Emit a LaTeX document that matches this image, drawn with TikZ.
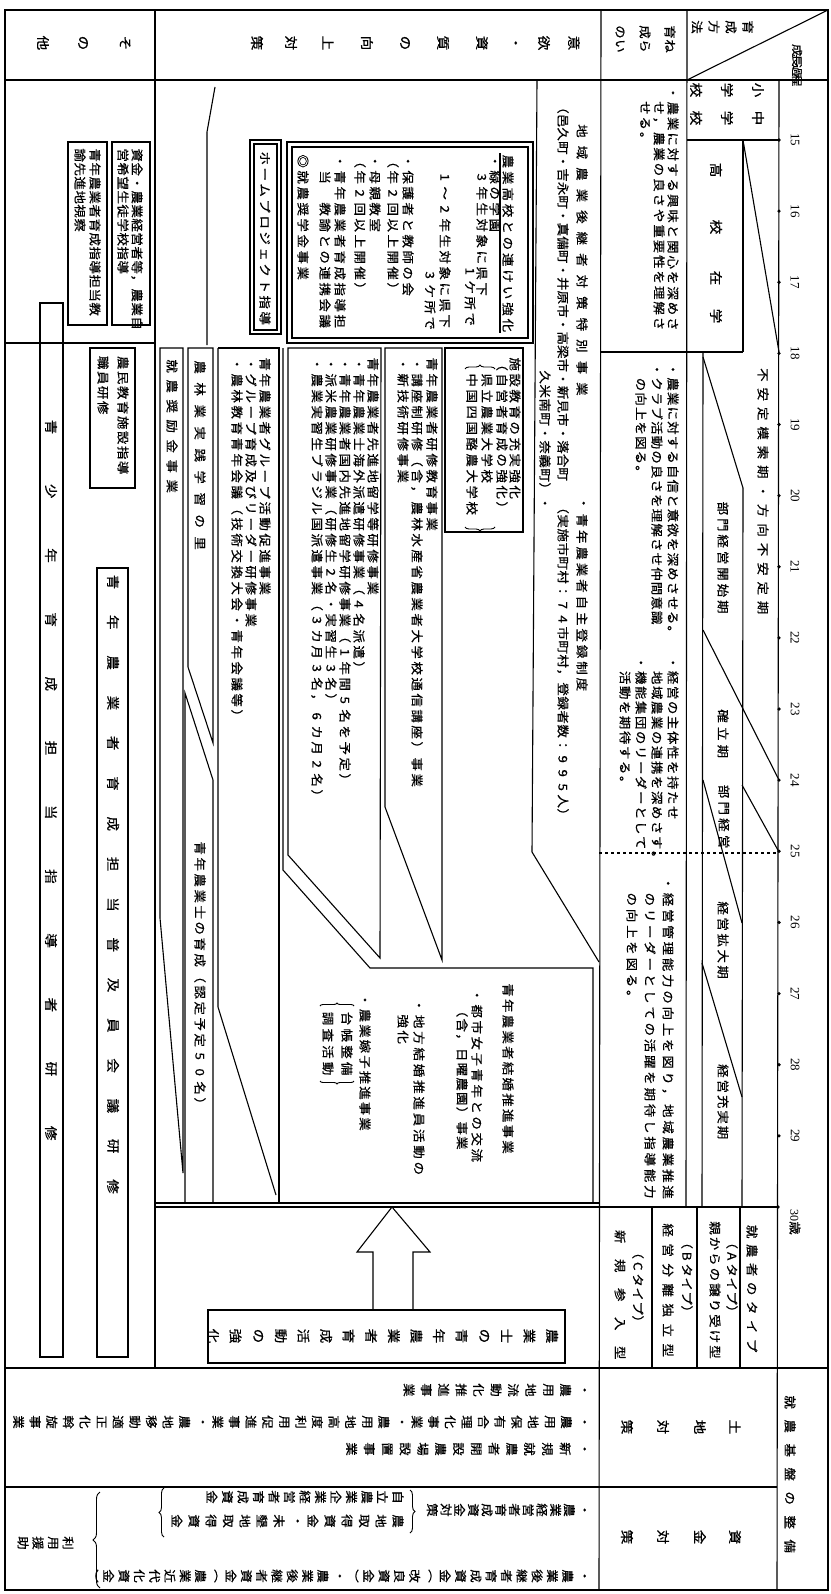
\documentclass[tikz,border=0pt]{standalone}
\usepackage{fontspec}
\usetikzlibrary{decorations.pathreplacing}
\newfontfamily\jp[FakeStretch=1.12,FakeBold=0.6]{Noto Sans CJK JP}
\newfontfamily\serif{Liberation Serif}
\newdimen\hzp
\def\hzloop#1{\ifx\relax#1\else\hbox to\hzp{\hss#1\hss}\expandafter\hzloop\fi}
\newcommand\hz[2]{\hzp=#1pt\relax\hbox{\hzloop#2\relax}}
\newcount\tcnt
\def\tlx{0}\def\tly{0}\def\tlp{0}
\newcommand\tline[4]{\global\tcnt=0\relax\def\tlx{#1}\def\tly{#2}\def\tlp{#3}\tlit#4\relax}
\def\tlit#1{\ifx\relax#1\else\tlnode{#1}\expandafter\tlit\fi}
\def\tlnode#1{\node[T] at ({\tlx-\tlp*\the\tcnt},\tly) {#1};\global\advance\tcnt by 1\relax}
\tikzset{
  L/.style={rotate=-90,anchor=west,inner sep=0pt,font=\jp\fontsize{12}{12}\selectfont},
  C/.style={rotate=-90,anchor=center,inner sep=0pt,font=\jp\fontsize{13}{13}\selectfont},
  T/.style={rotate=-90,anchor=center,inner sep=0pt,font=\jp\fontsize{12}{12}\selectfont},
  rule/.style={line width=1.1pt},
  frame/.style={line width=1.6pt},
  brc/.style={line width=0.9pt,decorate,decoration={brace,amplitude=#1}},
}
\begin{document}
\begin{tikzpicture}[x=1pt,y=-1pt]
\useasboundingbox (0,0) rectangle (830,1594);
\fill[white] (0,0) rectangle (830,1594);
% outer frame and main rules
\draw[frame] (5,10) rectangle (828,1590);
\draw[rule] (5,80) -- (828,80);
\draw[rule] (155,10) -- (155,1368);
\draw[rule] (601,10) -- (599,1590);
\draw[rule] (687,10) -- (686,1207);
\draw[rule] (779,80) -- (777,1590);
\draw[rule] (5,1368) -- (828,1368);
\draw[rule] (5,1487) -- (777,1487);
\draw[rule] (155,1207) -- (777,1207);
\draw[rule] (155,1203) -- (599,1203);
% header diagonal cell
\draw[rule] (687,80) -- (828,10);
\tline{748}{27}{17}{育成方法}
\node[L,font=\jp\fontsize{11}{11}\selectfont] at (797,45) {\hz{10}{成長過程}};
% header labels
\tline{670}{32}{25}{育成の}
\tline{670}{46}{25}{ねらい}
\foreach \c/\x in {意/574,欲/544,・/514,資/482,質/443,の/405,向/367,上/328,対/291,策/257}
  \node[C] at (\x,43) {\c};
\foreach \c/\x in {そ/125,の/83,他/43}
  \node[C] at (\x,43) {\c};
% school cells
\draw[rule] (687,140) -- (779,140);
\draw[rule] (743,140) -- (743,352);
\draw[rule] (743,140) -- (779,352);
\tikzset{T/.style={rotate=-90,anchor=center,inner sep=0pt,font=\jp\fontsize{13}{13}\selectfont}}
\tline{758}{90}{31}{小学校}
\tline{758}{118}{31}{中学校}
\foreach \c/\y in {高/170,校/227,在/278,学/316} \node[C] at (716,\y) {\c};
% ages
\foreach \a in {15,...,29}{
  \pgfmathsetmacro\yy{140+71.13*(\a-15)}
  \fill (779,\yy) circle (1.8pt);
  \node[C,font=\serif\fontsize{13}{13}\selectfont] at (795,\yy) {\a};
}
\fill (778,1207) circle (1.8pt);
\node[C,font=\serif\fontsize{12}{12}\selectfont] at (795,1222) {30\jp 歳};
% stage band
\draw[rule] (601,352) -- (743,352);
\draw[rule] (703,352) -- (702,1207);
\draw[rule] (743,488) -- (742,1207);
\draw[rule] (703,357) -- (743,488);
\draw[rule] (703,630) -- (779,780);
\draw[rule] (742,785) -- (779,852);
\draw[rule] (703,780) -- (742,923);
\draw[rule] (702,963) -- (742,1097);
\draw[rule,dashed] (599,853) -- (777,853);
\node[L] at (763,365) {\hz{19.4}{不安定模索期・方向不安定期}};
\node[L] at (723,500) {\hz{16.4}{部門経営開始期}};
\node[L] at (723,707) {\hz{17.7}{確立期}};
\node[L] at (724,783) {\hz{16.7}{部門経営}};
\node[L] at (723,900) {\hz{16}{経営拡大期}};
\node[L] at (723,1063) {\hz{15.4}{経営充実期}};
% aims column
\node[L] at (673,85) {\hz{15.4}{・農業に対する興味と関心を深めさ}};
\node[L] at (659,100) {\hz{15.4}{せ，農業の良さや重要性を理解さ}};
\node[L] at (645,100) {\hz{15.4}{せる。}};
\node[L] at (673,362) {\hz{14.6}{・農業に対する自信と意欲を深めさせる。}};
\node[L] at (657,362) {\hz{14.6}{・クラブ活動の良さを理解させ仲間意識}};
\node[L] at (641,377) {\hz{14.6}{の向上を図る。}};
\node[L] at (673,655) {\hz{15}{・経営の主体性を持たせ}};
\node[L] at (657,670) {\hz{15}{地域農業の連携を深めさす。}};
\node[L] at (641,655) {\hz{15}{・機能集団のリーダーとして}};
\node[L] at (625,670) {\hz{15}{活動を期待する。}};
\node[L] at (668,875) {\hz{16.25}{・経営管理能力の向上を図り，地域農業推進}};
\node[L] at (650,891) {\hz{16.25}{のリーダーとしての活躍を期待し指導能力}};
\node[L] at (632,891) {\hz{16.25}{の向上を図る。}};
% farmer types
\draw[rule] (740,1207) -- (740,1368);
\draw[rule] (697,1207) -- (697,1368);
\draw[rule] (652,1207) -- (652,1368);
\node[L] at (752,1222) {\hz{19}{就農者のタイプ}};
\node[L] at (732,1235) {\hz{14}{（Aタイプ）}};
\node[L] at (715,1220) {\hz{15.5}{親からの譲り受け型}};
\node[L] at (687,1235) {\hz{14}{（Bタイプ）}};
\node[L] at (668,1220) {\hz{20}{経営分離独立型}};
\node[L] at (638,1245) {\hz{14}{（Cタイプ）}};
\node[L] at (620,1222) {\hz{29}{新規参入型}};
% base section
\node[L] at (790,1390) {\hz{24}{就農基盤の整備}};
\foreach \c/\x in {土/735,地/700,対/663,策/627} \node[C] at (\x,1427) {\c};
\foreach \c/\x in {資/735,金/700,対/663,策/627} \node[C] at (\x,1537) {\c};
\tikzset{T/.style={rotate=-90,anchor=center,inner sep=0pt,font=\jp\fontsize{12}{12}\selectfont}}
\tline{583}{1390}{17.4}{・農用地流動化推進事業}
\tline{583}{1422}{16.6}{・農用地保有合理化事業・農用地高度利用促進事業・農地移動適正化斡旋事業}
\tline{583}{1449}{17.8}{・新規就農者開設農場設置事業}
\tline{583}{1510}{13.7}{・農業経営者育成資金対策}
\tline{398}{1497}{15.5}{自立農業企業経営者育成資金}
\tline{398}{1521}{17}{農地取得資金・未墾地取得資金}
\tline{583}{1576}{15.3}{・農業後継者育成資金︵改良資金︶・農業後継者資金︵農業近代化資金︶}
\tline{68}{1543}{15}{利用援助}
\draw[brc=5pt] (410,1490) -- (410,1533);
\draw[brc=5pt] (164,1537) -- (164,1488);
\draw[brc=7pt] (100,1588) -- (100,1492);
% arrow and strengthening box
\draw[rule] (392,1207) -- (430,1252) -- (413,1252) -- (413,1310) -- (373,1310) -- (373,1252) -- (357,1252) -- cycle;
\draw[rule] (208,1310) rectangle (565,1363);
\tikzset{T/.style={rotate=-90,anchor=center,inner sep=0pt,font=\jp\fontsize{13}{13}\selectfont}}
\tline{552}{1336}{22.6}{農業士の青年農業者育成活動の強化}
% regional column
\draw[rule] (537,80) -- (532,852) -- (599,962);
\node[L] at (582,120) {\hz{21.5}{地域農業後継者対策特別事業}};
\node[L] at (563,100) {\hz{13.6}{（邑久町・吉永町・真備町・井原市・高梁市・新見市・落合町}};
\node[L] at (545,370) {\hz{14}{久米南町・奈義町）・}};
\node[L] at (582,495) {\hz{16}{・}};
\node[L] at (582,512) {\hz{16.4}{青年農業者自主登録制度}};
\node[L] at (563,500) {\hz{14}{（実施市町村：74市町村，登録者数：995人）}};
% box: agricultural high school
\draw[rule] (287,142) rectangle (533,343);
\draw[rule] (292,147) rectangle (528,338);
\node[L] at (508,153) {\hz{16.4}{農業高校との連けい強化}};
\draw[rule] (500,153) -- (500,333);
\node[L] at (495,153) {\hz{16}{・緑の学園}};
\node[L] at (482,169) {\hz{16}{3年生対象に県下}};
\node[L] at (470,263) {\hz{16}{1ケ所で}};
\node[L] at (445,169) {\hz{16}{1〜2年生対象に県下}};
\node[L] at (430,267) {\hz{16}{3ケ所で}};
\node[L] at (408,153) {\hz{16}{・保護者と教師の会}};
\node[L] at (393,153) {\hz{16}{（年2回以上開催）}};
\node[L] at (375,153) {\hz{16}{・母親教室}};
\node[L] at (360,153) {\hz{16}{（年2回以上開催）}};
\node[L] at (340,153) {\hz{16}{・青年農業者育成指導担}};
\node[L] at (325,169) {\hz{16}{当　教諭との連携会議}};
\node[L] at (303,153) {\hz{16}{◎就農奨学金事業}};
% box: facility education
\draw[rule] (445,348) rectangle (523,532);
\node[L] at (515,356) {\hz{16}{施設教育の充実強化}};
\node[L] at (502,356) {\hz{16}{（自営者育成の強化）}};
\node[L] at (487,372) {\hz{16}{県立農業大学校}};
\node[L] at (472,372) {\hz{16}{中国四国酪農大学校}};
\draw[brc=4pt] (465,369) -- (495,369);
\draw[brc=4pt] (495,527) -- (465,527);
% box: training education
\draw[rule] (385,348) -- (442,348) -- (442,960) -- (385,807) -- cycle;
\node[L] at (432,356) {\hz{16}{青年農業者研修教育事業}};
\node[L] at (417,356) {\hz{16}{・講座制研修（含，農林水産省農業者大学校通信講座）事業}};
\node[L] at (403,356) {\hz{16}{・新技術研修事業}};
% box: advanced study
\draw[rule] (288,348) -- (381,348) -- (380,958) -- (288,855) -- cycle;
\node[L] at (373,356) {\hz{16}{青年農業者先進地留学等研修事業}};
\node[L] at (359,356) {\hz{16}{・青年農業士海外派遣研修事業（4名派遣）}};
\node[L] at (345,356) {\hz{16}{・青年農業者国内先進地留学研修事業（1年間5名を予定）}};
\node[L] at (331,356) {\hz{16}{・派米農業研修事業（研修生2名・実習生3名）}};
\node[L] at (317,356) {\hz{16}{・農業実習生ブラジル国派遣事業（3カ月3名，6カ月2名）}};
% marriage box
\draw[rule] (283,348) -- (283,870) -- (370,968) -- (593,968) -- (593,1203);
\node[L] at (508,982) {\hz{15.7}{青年農業者結婚推進事業}};
\node[L] at (477,987) {\hz{16}{・都市女子青年との交流}};
\node[L] at (462,1003) {\hz{14.7}{（含，日曜農園）事業}};
\node[L] at (419,997) {\hz{16.3}{・地方結婚推進員活動の}};
\node[L] at (403,1013) {\hz{16}{強化}};
\node[L] at (365,992) {\hz{15.5}{・農業嫁子推進事業}};
\node[L] at (347,1010) {\hz{16.7}{台帳整備}};
\node[L] at (328,1010) {\hz{16.7}{調査活動}};
\draw[brc=3pt] (320,1006) -- (354,1006);
\draw[brc=3pt] (354,1081) -- (320,1081);
% group activity bar
\draw[rule] (218,348) -- (279,348) -- (279,1203);
\draw[rule] (218,348) -- (218,1007) -- (276,1195);
\node[L] at (265,356) {\hz{16}{青年農業者グループ活動促進事業}};
\node[L] at (251,356) {\hz{16}{・グループ育成及びリーダー研修事業}};
\node[L] at (237,356) {\hz{16}{・農林教育青年会議（技術交換大会・青年会議等）}};
% home project
\draw[rule] (250,140) rectangle (281,334);
\draw[rule] (254,144) rectangle (277,330);
\node[L] at (265,150) {\hz{16}{ホームプロジェクト指導}};
\draw[rule] (215,87) -- (207,132) -- (207,345);
% practical learning, incentive, certified farmers
\draw[rule] (188,348) -- (213,348) -- (213,743) -- (188,667) -- cycle;
\node[L] at (200,356) {\hz{22}{農林業実践学習の里}};
\draw[rule] (160,348) -- (183,348) -- (183,1173) -- (160,918) -- cycle;
\node[L] at (172,356) {\hz{20}{就農奨励金事業}};
\draw[rule] (185,693) -- (213,780) -- (213,1203) -- (185,1203) -- cycle;
\node[L] at (200,840) {\hz{16}{青年農業士の育成（認定予定50名）}};
% others column
\draw[rule] (5,343) -- (155,343);
\draw[rule] (112,142) rectangle (150,325);
\node[L] at (137,148) {\hz{14}{資金・農業経営者等，農業自}};
\node[L] at (123,148) {\hz{14}{営希望生徒学校指導}};
\draw[rule] (68,142) rectangle (107,325);
\node[L] at (95,148) {\hz{14}{青年農業者育成指導担当教}};
\node[L] at (80,148) {\hz{14}{諭先進地視察}};
\draw[rule] (90,348) rectangle (135,488);
\node[L] at (123,355) {\hz{15}{農民教育施設指導}};
\node[L] at (103,355) {\hz{15}{職員研修}};
\draw[rule] (40,303) rectangle (63,1357);
\foreach \c [count=\i from 0] in {青,少,年,育,成,担,当,指,導,者,研,修}
  \node[C] at (51,427+64.2*\i) {\c};
\draw[rule] (97,568) rectangle (128,1357);
\foreach \c [count=\i from 0] in {青,年,農,業,者,育,成,担,当,普,及,員,会,議,研,修}
  \node[C] at (113,582+40.3*\i) {\c};
\end{tikzpicture}
\end{document}
